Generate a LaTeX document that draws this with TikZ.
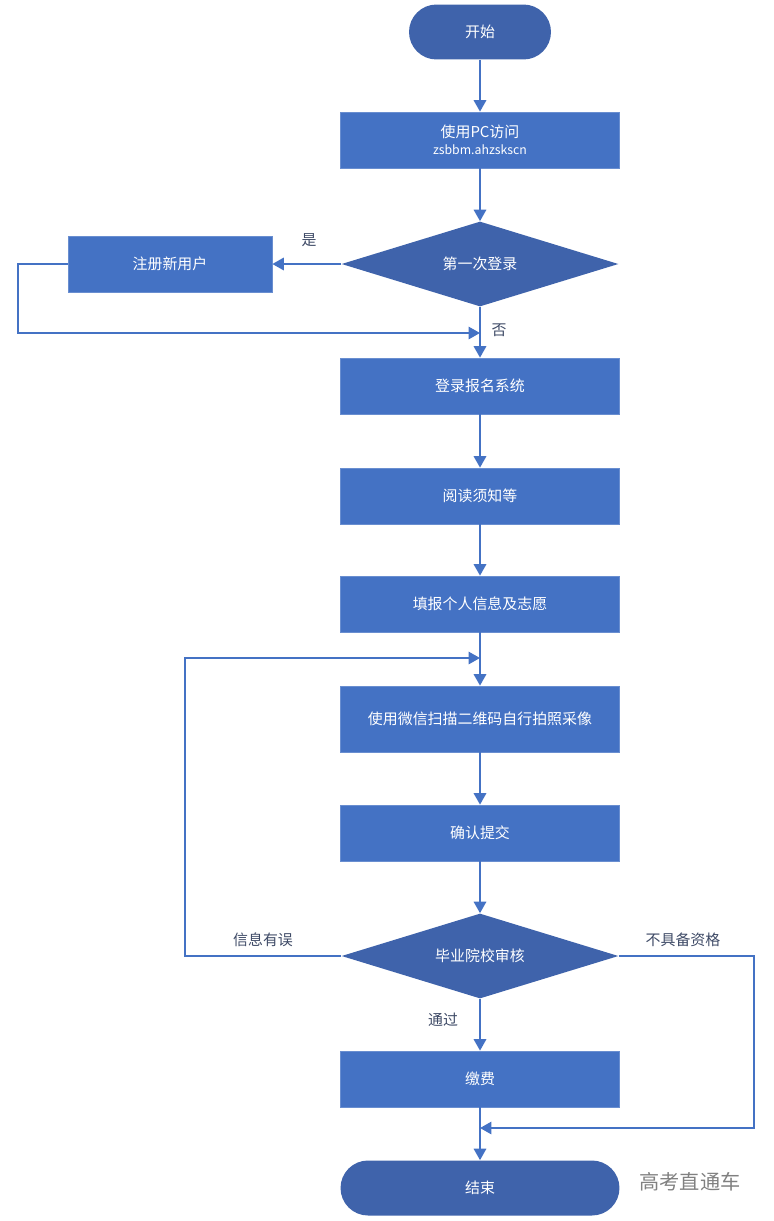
\documentclass[tikz,border=0pt]{standalone}
\usepackage{fontspec}
\setmainfont{Noto Sans CJK SC}
\usetikzlibrary{shapes.geometric,arrows.meta}
\definecolor{boxblue}{HTML}{4472C4}
\definecolor{termblue}{HTML}{3F63AB}
\definecolor{labelgray}{HTML}{3E4A66}
\begin{document}
\begin{tikzpicture}[
    x=0.02cm, y=-0.02cm,
    stepbox/.style={rectangle, fill=boxblue, draw=boxblue!80!white, minimum width=5.58cm, minimum height=1.12cm, align=center, text=white, font=\fontsize{8.5}{11}\selectfont},
    terminal/.style={rectangle, rounded corners=0.55cm, fill=termblue, minimum height=1.1cm, text=white, font=\fontsize{8.5}{11}\selectfont},
    decision/.style={diamond, aspect=3.26, fill=termblue, minimum width=5.54cm, minimum height=1.7cm, inner sep=0pt, text=white, font=\fontsize{8.5}{11}\selectfont},
    line/.style={draw=boxblue, line width=1.2pt, -{Triangle[width=7pt,length=6.5pt]}},
    tag/.style={text=labelgray, font=\fontsize{8.5}{11}\selectfont}
]
    \useasboundingbox (0,0) rectangle (774,1221);

    % start and access
    \node[terminal, minimum width=2.84cm] (start) at (480,32) {开始};
    \node[stepbox] (pc) at (480,140) {使用PC访问\\[-1pt]{\fontsize{7}{9}\selectfont zsbbm.ahzskscn}};
    \node[decision] (first) at (480,264) {第一次登录};
    \node[stepbox, minimum width=4.08cm] (register) at (170,264) {注册新用户};
    \coordinate (regjoin) at (480,333);

    % main steps
    \node[stepbox] (login) at (480,386) {登录报名系统};
    \node[stepbox] (read) at (480,496) {阅读须知等};
    \node[stepbox] (fill) at (480,604) {填报个人信息及志愿};
    \coordinate (scanjoin) at (480,658);
    \node[stepbox, minimum height=1.32cm] (scan) at (480,719) {使用微信扫描二维码自行拍照采像};
    \node[stepbox] (submit) at (480,833) {确认提交};
    \node[decision] (review) at (480,956) {毕业院校审核};
    \node[stepbox] (fee) at (480,1079) {缴费};
    \coordinate (feejoin) at (480,1128);
    \node[terminal, minimum width=5.58cm] (end) at (480,1188) {结束};

    % connectors
    \draw[line] (start) -- (pc);
    \draw[line] (pc) -- (first);
    \draw[line] (first.west) -- (register.east);
    \draw[line] (register.west) -- ++(-50,0) |- (regjoin);
    \draw[line] (first.south) -- (login);
    \draw[line] (login) -- (read);
    \draw[line] (read) -- (fill);
    \draw[line] (fill) -- (scan);
    \draw[line] (scan) -- (submit);
    \draw[line] (submit) -- (review.north);
    \draw[line] (review.west) -- ++(-156,0) |- (scanjoin);
    \draw[line] (review.south) -- (fee);
    \draw[line] (review.east) -- ++(135,0) |- (feejoin);
    \draw[line] (fee) -- (end);

    % labels
    \node[tag] (yes) at (309,240) {是};
    \node[tag] (no) at (499,330) {否};
    \node[tag] (wrong) at (263,940) {信息有误};
    \node[tag] (notok) at (683,940) {不具备资格};
    \node[tag] (pass) at (443,1020) {通过};
    \node[text=black!50, font=\fontsize{11.5}{14}\selectfont] (mark) at (690,1182) {高考直通车};
\end{tikzpicture}
\end{document}
